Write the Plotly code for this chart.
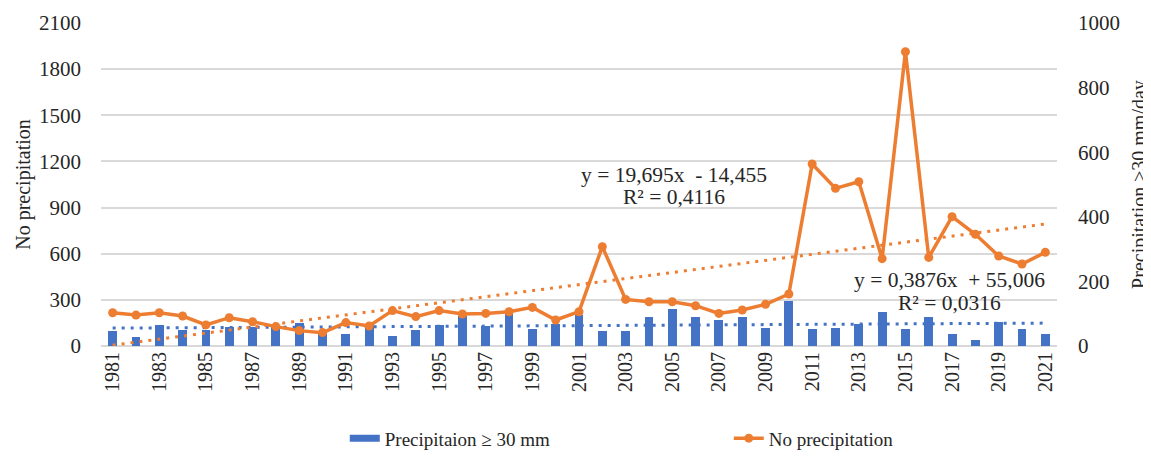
import plotly.graph_objects as go

years = list(range(1981, 2022))

precip_30mm = [46, 28, 65, 50, 50, 60, 60, 60, 72, 41, 38, 67, 31,
               49, 64, 93, 62, 103, 54, 67, 96, 46, 45, 91, 114,
               91, 80, 91, 57, 139, 54, 57, 69, 106, 54, 91, 38, 19, 74, 54, 38]

no_precip = [216, 201, 216, 195, 137, 184, 158, 126, 100, 87, 152, 130,
             230, 191, 230, 208, 212, 223, 251, 169, 223,
             646, 303, 288, 288, 262, 212, 234, 271, 338,
             1183, 1025, 1068, 568, 1913, 576, 841, 726, 585, 533, 609]

# Trendline coefficients as printed on the chart
trend_no = (19.695, -14.455)
trend_pr = (0.3876, 55.006)

xtick_years = [y for y in years if y % 2 == 1]

BLUE = "#4472C4"
ORANGE = "#ED7D31"
FONT = "Liberation Serif, Times New Roman, serif"
TXT = "#262626"

idx = list(range(1, len(years) + 1))
trend_no_vals = [trend_no[0] * i + trend_no[1] for i in idx]
trend_pr_vals = [trend_pr[0] * i + trend_pr[1] for i in idx]

fig = go.Figure()

fig.add_trace(go.Bar(x=years, y=precip_30mm, marker=dict(color=BLUE, line=dict(width=0)),
                     width=0.38, yaxis="y", showlegend=False, name="Precipitaion ≥ 30 mm"))
fig.add_trace(go.Scatter(x=years, y=trend_pr_vals, mode="lines", yaxis="y",
                         line=dict(color=BLUE, width=3, dash="3px,6px"), showlegend=False,
                         hoverinfo="skip"))
# legend-only entry with a rectangle-like swatch
fig.add_trace(go.Scatter(x=[None], y=[None], mode="lines", yaxis="y",
                         line=dict(color=BLUE, width=7), name="Precipitaion ≥ 30 mm",
                         legendrank=1))
fig.add_trace(go.Scatter(x=years, y=no_precip, mode="lines+markers", yaxis="y2",
                         line=dict(color=ORANGE, width=3.5),
                         marker=dict(color=ORANGE, size=9), name="No precipitation",
                         legendrank=2))
fig.add_trace(go.Scatter(x=years, y=trend_no_vals, mode="lines", yaxis="y2",
                         line=dict(color=ORANGE, width=3, dash="3px,6px"), showlegend=False,
                         hoverinfo="skip"))

fig.update_layout(
    width=1151, height=456,
    margin=dict(l=93, r=102, t=15, b=118, autoexpand=False),
    paper_bgcolor="white", plot_bgcolor="white",
    font=dict(family=FONT, size=21, color=TXT),
    bargap=0,
    xaxis=dict(range=[1980.5, 2021.5], tickmode="array", tickvals=xtick_years,
               ticktext=[str(y) for y in xtick_years], tickangle=-90,
               tickfont=dict(size=20), showgrid=False, zeroline=False,
               showline=False, ticks="", automargin=False, ticklabelstandoff=1),
    yaxis=dict(range=[0, 1000], dtick=200, side="right", showgrid=False,
               zeroline=False, showline=False, ticklabelstandoff=20, automargin=False,
               title=dict(text="Precipitation ≥30 mm/day", font=dict(size=20), standoff=12)),
    yaxis2=dict(range=[0, 2100], dtick=300, side="left", overlaying="y",
                showgrid=True, gridcolor="#D9D9D9", gridwidth=1.5,
                zeroline=True, zerolinecolor="#D9D9D9", zerolinewidth=1.5,
                showline=False, ticklabelstandoff=19, automargin=False,
                title=dict(text="No precipitation", font=dict(size=20), standoff=3)),
    legend=dict(orientation="h", x=0.255, xanchor="left", y=-0.227, yanchor="top",
                font=dict(size=19), entrywidth=339, itemwidth=30,
                bgcolor="rgba(0,0,0,0)"),
    annotations=[
        dict(text="y = 19,695x  - 14,455", x=2005.07, y=1112, xref="x", yref="y2",
             showarrow=False, font=dict(size=21.5, color=TXT)),
        dict(text="R² = 0,4116", x=2005.07, y=969, xref="x", yref="y2",
             showarrow=False, font=dict(size=21.5, color=TXT)),
        dict(text="y = 0,3876x  + 55,006", x=2016.9, y=429, xref="x", yref="y2",
             showarrow=False, font=dict(size=21.5, color=TXT)),
        dict(text="R² = 0,0316", x=2016.9, y=280, xref="x", yref="y2",
             showarrow=False, font=dict(size=21.5, color=TXT)),
    ],
)

fig.write_html("out.html")
